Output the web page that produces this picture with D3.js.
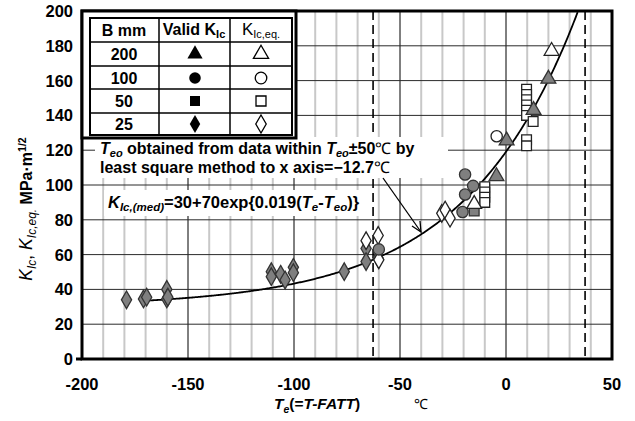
<!DOCTYPE html>
<html><head><meta charset="utf-8">
<script src="https://cdn.jsdelivr.net/npm/d3@7"></script>
<style>body{margin:0;background:#fff}svg{display:block}text{font-family:"Liberation Sans",Arial,sans-serif}</style>
</head><body><div id="c"></div>
<script>
// ---- data ----
const xTicks = [-200,-150,-100,-50,0,50];
const yTicks = [0,20,40,60,80,100,120,140,160,180,200];
const legendSizes = ["200","100","50","25"];
const valid200 = [[-4.5,105],[0.3,125.5],[13,143],[20,161]];
const eq200 = [[21.5,177],[-15,89]];
const valid100 = [[-19.3,106],[-15.5,99.5],[-19.3,94.5],[-20.5,84.5],[-60,63]];
const eq100 = [[-4.4,128]];
const valid50 = [[-15,85]];
const eq50 = [[9.7,155],[9.7,152],[9.7,149],[9.7,146],[9.7,143],[9.7,140],[12.8,136.5],[9.7,126],[9.7,122.5],
              [-10,99],[-10,96],[-10,93],[-10,90]];
const valid25 = [[-179,34],[-171,34.5],[-169.5,35.5],[-160,40],[-160,34.5],[-159.5,35.5],[-110.7,50.2],[-110.7,47.3],
                 [-106.3,48.7],[-104.2,45.4],[-100.3,52.7],[-100.3,49.6],[-76.3,50.2],[-66,63.5],[-66,56],[-60.4,58]];
const eq25 = [[-66,68],[-60.3,71],[-60,57],[-30.3,83.7],[-28.7,85.6],[-26.4,80.9]];
const Teo = -12.7;
const dashedT = [Teo-50, Teo+50];
const curveRange = [-172, 33.8];

const W=635,H=421;
const svg=d3.select("#c").append("svg").attr("width",W).attr("height",H);
const x=d3.scaleLinear([-200,50],[82,612]);
const y=d3.scaleLinear([0,200],[359,11]);

// grid
const g=svg.append("g");
g.selectAll(".minor").data(d3.range(-190,50,10).filter(v=>v%50!==0)).join("line")
 .attr("x1",d=>x(d)).attr("x2",d=>x(d)).attr("y1",y(200)).attr("y2",y(0))
 .attr("stroke","#c8c8c8").attr("stroke-width",2);
g.selectAll(".major").data(xTicks.slice(1,-1)).join("line")
 .attr("x1",d=>x(d)).attr("x2",d=>x(d)).attr("y1",y(200)).attr("y2",y(0))
 .attr("stroke","#000").attr("stroke-width",1);
g.selectAll(".hg").data(yTicks.slice(1,-1)).join("line")
 .attr("x1",x(-200)).attr("x2",x(50)).attr("y1",d=>y(d)).attr("y2",d=>y(d))
 .attr("stroke","#2a2a2a").attr("stroke-width",1);

// dashed lines
g.selectAll(".dash").data(dashedT).join("line")
 .attr("x1",d=>x(d)).attr("x2",d=>x(d)).attr("y1",y(200)).attr("y2",y(0))
 .attr("stroke","#000").attr("stroke-width",1.6).attr("stroke-dasharray","9,5");

// white annotation boxes
svg.append("rect").attr("x",95).attr("y",137).attr("width",353).attr("height",41).attr("fill","#fff");
svg.append("rect").attr("x",104).attr("y",190).attr("width",262).attr("height",26).attr("fill","#fff");

// curve
const cur=d3.range(curveRange[0],curveRange[1],0.5).concat([curveRange[1]]);
svg.append("path").datum(cur).attr("fill","none").attr("stroke","#000").attr("stroke-width",1.8)
 .attr("d",d3.line().x(t=>x(t)).y(t=>y(30+70*Math.exp(0.019*(t-Teo)))));

// markers
const sym={tri:d3.symbolTriangle,cir:d3.symbolCircle,sq:d3.symbolSquare,dia:d3.symbolDiamond};
const size={tri:95,cir:100,sq:95,dia:90};
function plot(data,type,filled){
  svg.append("g").selectAll("path").data(data).join("path")
   .attr("transform",d=>`translate(${x(d[0])},${y(d[1])})`)
   .attr("d",d3.symbol(sym[type],size[type]))
   .attr("fill",filled?"#7f7f7f":"#fff").attr("stroke",filled?"#333":"#222").attr("stroke-width",1.3);
}
plot(eq50,"sq",false);
plot(valid25,"dia",true);
plot(eq25,"dia",false);
plot(valid100,"cir",true);
plot(eq100,"cir",false);
plot(valid50,"sq",true);
plot(valid200,"tri",true);
plot(eq200,"tri",false);

// arrow
svg.append("line").attr("x1",383).attr("y1",178).attr("x2",421).attr("y2",232).attr("stroke","#000").attr("stroke-width",1.3);
svg.append("path").attr("d","M412,226 L421,232 L420,221").attr("fill","none").attr("stroke","#000").attr("stroke-width",1.3);

// frame
svg.append("rect").attr("x",x(-200)).attr("y",y(200)).attr("width",x(50)-x(-200)).attr("height",y(0)-y(200))
 .attr("fill","none").attr("stroke","#000").attr("stroke-width",3);
svg.append("line").attr("x1",76).attr("x2",82).attr("y1",y(0)).attr("y2",y(0)).attr("stroke","#000").attr("stroke-width",3);

// legend
const L=svg.append("g");
L.append("rect").attr("x",82).attr("y",11).attr("width",214).attr("height",127).attr("fill","#fff").attr("stroke","#000").attr("stroke-width",3);
L.append("rect").attr("x",90).attr("y",18).attr("width",202).attr("height",117).attr("fill","#fff").attr("stroke","#000").attr("stroke-width",2);
const colX=[159,230], rowY=[42,66,89,113];
L.selectAll(".cl").data(colX).join("line").attr("x1",d=>d).attr("x2",d=>d).attr("y1",18).attr("y2",135).attr("stroke","#000").attr("stroke-width",1.5);
L.selectAll(".rl").data(rowY).join("line").attr("x1",90).attr("x2",292).attr("y1",d=>d).attr("y2",d=>d).attr("stroke","#000").attr("stroke-width",1.5);
const hdr=L.append("g").attr("font-weight","bold").attr("font-size",16).attr("text-anchor","middle");
hdr.append("text").attr("x",124).attr("y",36).text("B mm");
let t1=hdr.append("text").attr("x",194).attr("y",35);
t1.append("tspan").text("Valid K");
t1.append("tspan").attr("font-size",11).attr("dy",3).text("Ic");
let t2=hdr.append("text").attr("x",261).attr("y",35).attr("font-weight","normal");
t2.append("tspan").attr("font-size",17).text("K");
t2.append("tspan").attr("font-size",11).attr("dy",3).text("Ic,eq.");
const rowC=[54,78,101,124];
const types=["tri","cir","sq","dia"];
legendSizes.forEach((s,i)=>{
  L.append("text").attr("x",124).attr("y",rowC[i]+6).attr("text-anchor","middle").attr("font-weight","bold").attr("font-size",16).text(s);
  L.append("path").attr("transform",`translate(195,${rowC[i]})`).attr("d",d3.symbol(sym[types[i]],size[types[i]]*1.05)).attr("fill","#000");
  L.append("path").attr("transform",`translate(261,${rowC[i]})`).attr("d",d3.symbol(sym[types[i]],size[types[i]]*1.05)).attr("fill","#fff").attr("stroke","#000").attr("stroke-width",1.3);
});

// axis labels
svg.append("g").selectAll("text").data(yTicks).join("text")
 .attr("x",73).attr("y",d=>y(d)+6).attr("text-anchor","end").attr("font-weight","bold").attr("font-size",16.5).text(d=>d);
svg.append("g").selectAll("text").data(xTicks).join("text")
 .attr("x",d=>x(d)).attr("y",390).attr("text-anchor","middle").attr("font-weight","bold").attr("font-size",16.5).text(d=>d);

// x title
const xt=svg.append("text").attr("x",274).attr("y",409).attr("font-size",15.5).attr("font-weight","bold");
xt.append("tspan").attr("font-style","italic").text("T");
xt.append("tspan").attr("font-size",10.5).attr("dy",4).attr("font-style","italic").text("e");
xt.append("tspan").attr("dy",-4).text("(=");
xt.append("tspan").attr("font-style","italic").text("T-FATT");
xt.append("tspan").text(")");
svg.append("text").attr("x",414).attr("y",409).attr("font-size",14).text("℃");

// y title
const yt=svg.append("text").attr("transform","translate(32,209) rotate(-90)").attr("text-anchor","middle").attr("font-size",17.5);
yt.append("tspan").attr("font-style","italic").text("K");
yt.append("tspan").attr("font-style","italic").attr("font-size",12).attr("dy",4).text("Ic");
yt.append("tspan").attr("dy",-4).text(", ");
yt.append("tspan").attr("font-style","italic").text("K");
yt.append("tspan").attr("font-style","italic").attr("font-size",12).attr("dy",4).text("Ic,eq.");
yt.append("tspan").attr("dy",-4).attr("font-weight","bold").attr("font-size",16).text("  MPa·m");
yt.append("tspan").attr("font-weight","bold").attr("font-size",10.5).attr("dy",-6).text("1/2");

// annotation
const a1=svg.append("text").attr("x",100).attr("y",154).attr("font-size",16).attr("font-weight","bold");
a1.append("tspan").attr("font-style","italic").text("T");
a1.append("tspan").attr("font-style","italic").attr("font-size",11).attr("dy",3).text("eo");
a1.append("tspan").attr("dy",-3).text(" obtained from data within ");
a1.append("tspan").attr("font-style","italic").text("T");
a1.append("tspan").attr("font-style","italic").attr("font-size",11).attr("dy",3).text("eo");
a1.append("tspan").attr("dy",-3).text("±50");
a1.append("tspan").attr("font-weight","normal").text("℃");
a1.append("tspan").text(" by");
const a2=svg.append("text").attr("x",100).attr("y",173).attr("font-size",16).attr("font-weight","bold");
a2.append("tspan").text("least square method to x axis=−12.7");
a2.append("tspan").attr("font-weight","normal").text("℃");

const f=svg.append("text").attr("x",108).attr("y",208).attr("font-size",16.5).attr("font-weight","bold");
f.append("tspan").attr("font-style","italic").text("K");
f.append("tspan").attr("font-style","italic").attr("font-size",11.5).attr("dy",3).text("Ic,(med)");
f.append("tspan").attr("dy",-3).text("=30+70exp{0.019(");
f.append("tspan").attr("font-style","italic").text("T");
f.append("tspan").attr("font-style","italic").attr("font-size",11.5).attr("dy",3).text("e");
f.append("tspan").attr("dy",-3).text("-");
f.append("tspan").attr("font-style","italic").text("T");
f.append("tspan").attr("font-style","italic").attr("font-size",11.5).attr("dy",3).text("eo");
f.append("tspan").attr("dy",-3).text(")}");
</script></body></html>
